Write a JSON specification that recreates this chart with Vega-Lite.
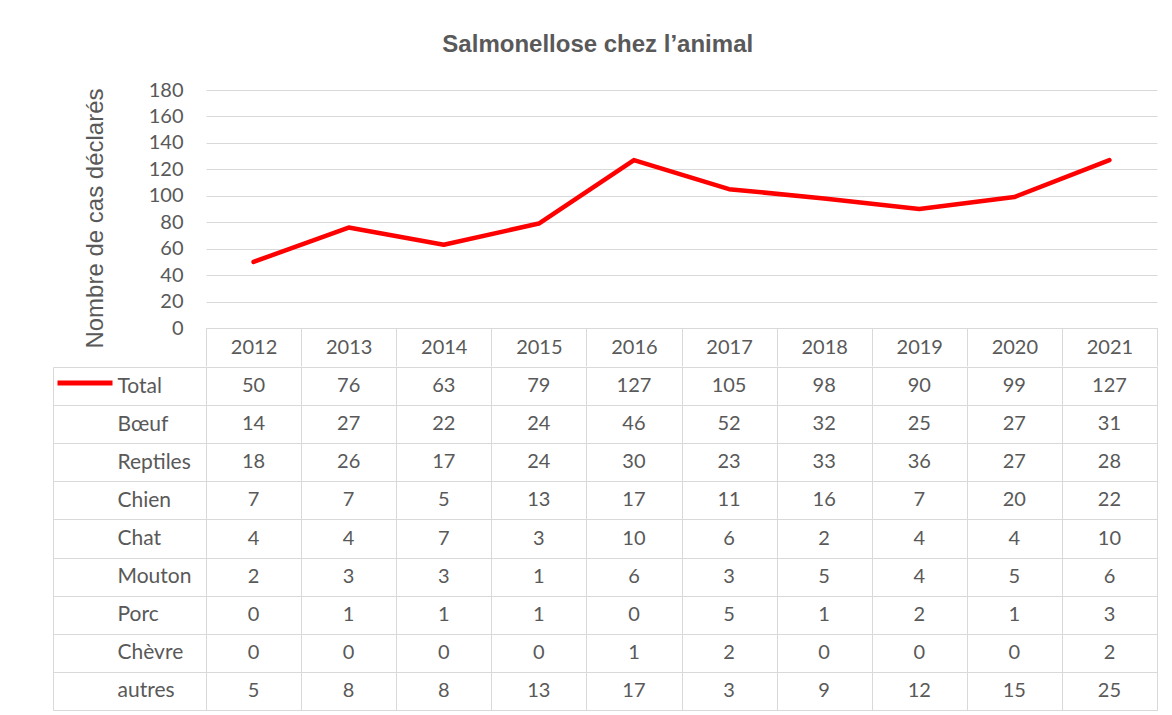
{
  "$schema": "https://vega.github.io/schema/vega-lite/v6.json",
  "padding": {"left": 52, "top": 33, "right": 10, "bottom": 0},
  "background": "white",
  "title": {"text": "Salmonellose chez l’animal", "font": "Liberation Sans", "fontSize": 24, "fontWeight": "bold", "color": "#595959", "anchor": "middle", "offset": 23, "dx": -7},
  "spacing": -12,
  "config": {"view": {"stroke": null}},
  "datasets": {
    "t": [
      {"year": 2012, "category": "Total", "value": 50}, {"year": 2013, "category": "Total", "value": 76}, {"year": 2014, "category": "Total", "value": 63}, {"year": 2015, "category": "Total", "value": 79}, {"year": 2016, "category": "Total", "value": 127}, {"year": 2017, "category": "Total", "value": 105}, {"year": 2018, "category": "Total", "value": 98}, {"year": 2019, "category": "Total", "value": 90}, {"year": 2020, "category": "Total", "value": 99}, {"year": 2021, "category": "Total", "value": 127},
      {"year": 2012, "category": "Bœuf", "value": 14}, {"year": 2013, "category": "Bœuf", "value": 27}, {"year": 2014, "category": "Bœuf", "value": 22}, {"year": 2015, "category": "Bœuf", "value": 24}, {"year": 2016, "category": "Bœuf", "value": 46}, {"year": 2017, "category": "Bœuf", "value": 52}, {"year": 2018, "category": "Bœuf", "value": 32}, {"year": 2019, "category": "Bœuf", "value": 25}, {"year": 2020, "category": "Bœuf", "value": 27}, {"year": 2021, "category": "Bœuf", "value": 31},
      {"year": 2012, "category": "Reptiles", "value": 18}, {"year": 2013, "category": "Reptiles", "value": 26}, {"year": 2014, "category": "Reptiles", "value": 17}, {"year": 2015, "category": "Reptiles", "value": 24}, {"year": 2016, "category": "Reptiles", "value": 30}, {"year": 2017, "category": "Reptiles", "value": 23}, {"year": 2018, "category": "Reptiles", "value": 33}, {"year": 2019, "category": "Reptiles", "value": 36}, {"year": 2020, "category": "Reptiles", "value": 27}, {"year": 2021, "category": "Reptiles", "value": 28},
      {"year": 2012, "category": "Chien", "value": 7}, {"year": 2013, "category": "Chien", "value": 7}, {"year": 2014, "category": "Chien", "value": 5}, {"year": 2015, "category": "Chien", "value": 13}, {"year": 2016, "category": "Chien", "value": 17}, {"year": 2017, "category": "Chien", "value": 11}, {"year": 2018, "category": "Chien", "value": 16}, {"year": 2019, "category": "Chien", "value": 7}, {"year": 2020, "category": "Chien", "value": 20}, {"year": 2021, "category": "Chien", "value": 22},
      {"year": 2012, "category": "Chat", "value": 4}, {"year": 2013, "category": "Chat", "value": 4}, {"year": 2014, "category": "Chat", "value": 7}, {"year": 2015, "category": "Chat", "value": 3}, {"year": 2016, "category": "Chat", "value": 10}, {"year": 2017, "category": "Chat", "value": 6}, {"year": 2018, "category": "Chat", "value": 2}, {"year": 2019, "category": "Chat", "value": 4}, {"year": 2020, "category": "Chat", "value": 4}, {"year": 2021, "category": "Chat", "value": 10},
      {"year": 2012, "category": "Mouton", "value": 2}, {"year": 2013, "category": "Mouton", "value": 3}, {"year": 2014, "category": "Mouton", "value": 3}, {"year": 2015, "category": "Mouton", "value": 1}, {"year": 2016, "category": "Mouton", "value": 6}, {"year": 2017, "category": "Mouton", "value": 3}, {"year": 2018, "category": "Mouton", "value": 5}, {"year": 2019, "category": "Mouton", "value": 4}, {"year": 2020, "category": "Mouton", "value": 5}, {"year": 2021, "category": "Mouton", "value": 6},
      {"year": 2012, "category": "Porc", "value": 0}, {"year": 2013, "category": "Porc", "value": 1}, {"year": 2014, "category": "Porc", "value": 1}, {"year": 2015, "category": "Porc", "value": 1}, {"year": 2016, "category": "Porc", "value": 0}, {"year": 2017, "category": "Porc", "value": 5}, {"year": 2018, "category": "Porc", "value": 1}, {"year": 2019, "category": "Porc", "value": 2}, {"year": 2020, "category": "Porc", "value": 1}, {"year": 2021, "category": "Porc", "value": 3},
      {"year": 2012, "category": "Chèvre", "value": 0}, {"year": 2013, "category": "Chèvre", "value": 0}, {"year": 2014, "category": "Chèvre", "value": 0}, {"year": 2015, "category": "Chèvre", "value": 0}, {"year": 2016, "category": "Chèvre", "value": 1}, {"year": 2017, "category": "Chèvre", "value": 2}, {"year": 2018, "category": "Chèvre", "value": 0}, {"year": 2019, "category": "Chèvre", "value": 0}, {"year": 2020, "category": "Chèvre", "value": 0}, {"year": 2021, "category": "Chèvre", "value": 2},
      {"year": 2012, "category": "autres", "value": 5}, {"year": 2013, "category": "autres", "value": 8}, {"year": 2014, "category": "autres", "value": 8}, {"year": 2015, "category": "autres", "value": 13}, {"year": 2016, "category": "autres", "value": 17}, {"year": 2017, "category": "autres", "value": 3}, {"year": 2018, "category": "autres", "value": 9}, {"year": 2019, "category": "autres", "value": 12}, {"year": 2020, "category": "autres", "value": 15}, {"year": 2021, "category": "autres", "value": 25}
    ]
  },
  "vconcat": [
    {
      "width": 951,
      "height": 238,
      "data": {"name": "t"},
      "transform": [{"filter": "datum.category === 'Total'"}],
      "mark": {"type": "line", "strokeWidth": 4.5, "strokeCap": "round", "strokeJoin": "round"},
      "encoding": {
        "x": {"field": "year", "type": "ordinal", "scale": {"type": "band", "paddingInner": 0, "paddingOuter": 0},
          "axis": {"title": null, "domain": true, "domainColor": "#d9d9d9", "tickBand": "extent", "tickSize": 38, "tickColor": "#d9d9d9", "labelFont": "Lato", "labelFontSize": 20, "labelColor": "#595959", "labelPadding": -29, "labelAngle": 0, "grid": false}},
        "y": {"field": "value", "type": "quantitative", "scale": {"domain": [0, 180], "nice": false},
          "axis": {"values": [0, 20, 40, 60, 80, 100, 120, 140, 160, 180], "title": "Nombre de cas déclarés", "titleFont": "Liberation Sans", "titleFontSize": 24, "titleFontWeight": "normal", "titleColor": "#595959", "titlePadding": 41, "titleY": 128, "domain": false, "ticks": false, "grid": true, "gridColor": "#d9d9d9", "labelFont": "Lato", "labelFontSize": 20, "labelColor": "#595959", "labelPadding": 23}},
        "color": {"field": "category", "type": "nominal", "scale": {"range": ["#ff0000"]},
          "legend": {"orient": "none", "legendX": -151, "legendY": 263, "title": null, "symbolType": "stroke", "symbolSize": 3025, "symbolStrokeWidth": 5, "labelExpr": "''", "padding": 0}}
      }
    },
    {
      "width": 951,
      "height": 343,
      "data": {"name": "t"},
      "view": {"stroke": "#d9d9d9"},
      "mark": {"type": "text", "fontSize": 20, "font": "Lato", "color": "#595959"},
      "encoding": {
        "x": {"field": "year", "type": "ordinal", "scale": {"type": "band", "paddingInner": 0, "paddingOuter": 0},
          "axis": {"title": null, "labels": false, "ticks": false, "domain": false, "grid": true, "tickBand": "extent", "gridColor": "#d9d9d9"}},
        "y": {"field": "category", "type": "nominal", "sort": ["Total", "Bœuf", "Reptiles", "Chien", "Chat", "Mouton", "Porc", "Chèvre", "autres"], "scale": {"type": "band", "paddingInner": 0, "paddingOuter": 0},
          "axis": {"title": null, "offset": 153, "tickSize": -153, "tickBand": "extent", "tickColor": "#d9d9d9", "domainColor": "#d9d9d9", "grid": true, "gridColor": "#d9d9d9", "labelAlign": "left", "labelPadding": 89, "labelFont": "Lato", "labelFontSize": 21, "labelColor": "#595959"}},
        "text": {"field": "value", "type": "quantitative"}
      }
    }
  ]
}
